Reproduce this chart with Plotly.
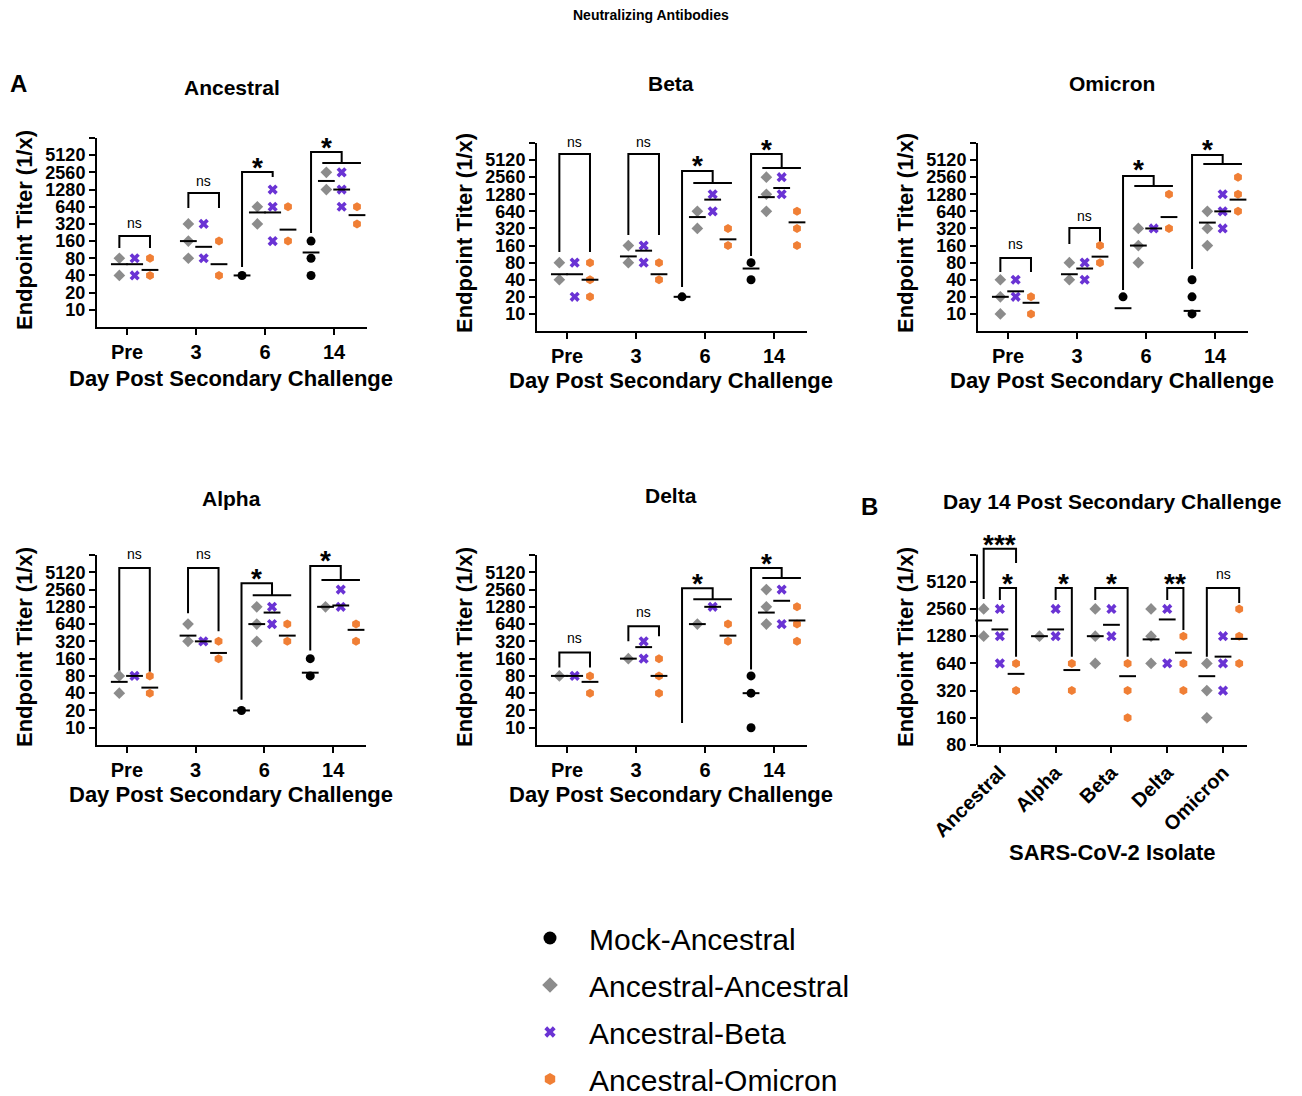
import math
import plotly.graph_objects as go

# page is drawn with an 8px body margin, so the figure is made 8px smaller
OFF = 8
W, H = 1302, 1096
FW, FH = W - OFF, H - OFF
FONT = "Liberation Sans, Arial, sans-serif"

# ---------------- data ----------------
DAYS = ["Pre", "3", "6", "14"]
ISOLATES = ["Ancestral", "Alpha", "Beta", "Delta", "Omicron"]
SERIES_NAMES = ["Mock-Ancestral", "Ancestral-Ancestral", "Ancestral-Beta", "Ancestral-Omicron"]
Y_TICKS_A = [10, 20, 40, 80, 160, 320, 640, 1280, 2560, 5120]
Y_TICKS_B = [80, 160, 320, 640, 1280, 2560, 5120]
# values below the limit of detection are plotted at 5 (the axis floor)

# Ancestral
ANC_MOCK = [[5], [5], [40], [160, 80, 40]]
ANC_MOCK_GMT = [5, 5, 40, 101]
ANC_AA = [[80, 40], [320, 160, 80], [640, 320], [2560, 1280]]
ANC_AA_GMT = [63, 160, 508, 1810]
ANC_AB = [[80, 40], [320, 80], [1280, 640, 160], [2560, 1280, 640]]
ANC_AB_GMT = [63, 127, 508, 1280]
ANC_AO = [[80, 40], [160, 40], [640, 160], [640, 320]]
ANC_AO_GMT = [50, 63, 254, 456]

# Beta
BETA_MOCK = [[5], [5], [20], [80, 40]]
BETA_MOCK_GMT = [5, 5, 20, 63]
BETA_AA = [[80, 40], [160, 80], [640, 320], [2560, 1280, 640]]
BETA_AA_GMT = [50, 103, 508, 1140]
BETA_AB = [[80, 20], [160, 80], [1280, 640], [2560, 1280]]
BETA_AB_GMT = [50, 130, 1030, 1650]
BETA_AO = [[80, 40, 20], [80, 40], [320, 160], [640, 320, 160]]
BETA_AO_GMT = [40, 50, 206, 410]

# Omicron
OMI_MOCK = [[5], [5], [20, 5], [40, 20, 10, 5]]
OMI_MOCK_GMT = [5, 5, 12.6, 11.3]
OMI_AA = [[40, 20, 10], [80, 40], [320, 160, 80], [640, 320, 160]]
OMI_AA_GMT = [20, 50, 160, 406]
OMI_AB = [[40, 20], [80, 40], [320], [1280, 640, 320]]
OMI_AB_GMT = [25, 63, 320, 640]
OMI_AO = [[20, 10], [160, 80], [1280, 320], [2560, 1280, 640]]
OMI_AO_GMT = [15.7, 102, 508, 1030]

# Alpha
ALP_MOCK = [[5], [5], [20], [160, 80]]
ALP_MOCK_GMT = [5, 5, 20, 91]
ALP_AA = [[80, 40], [640, 320], [1280, 640, 320], [1280]]
ALP_AA_GMT = [63, 403, 640, 1280]
ALP_AB = [[80], [320], [1280, 640], [2560, 1280]]
ALP_AB_GMT = [80, 320, 1016, 1350]
ALP_AO = [[80, 40], [320, 160], [640, 320], [640, 320]]
ALP_AO_GMT = [50, 201, 403, 508]

# Delta
DEL_MOCK = [[5], [5], [5], [80, 40, 10]]
DEL_MOCK_GMT = [5, 5, 5, 40]
DEL_AA = [[80], [160], [640], [2560, 1280, 640]]
DEL_AA_GMT = [80, 160, 640, 1016]
DEL_AB = [[80], [320, 160], [1280], [2560, 640]]
DEL_AB_GMT = [80, 254, 1280, 1630]
DEL_AO = [[80, 40], [160, 80, 40], [640, 320], [1280, 640, 320]]
DEL_AO_GMT = [63, 80, 403, 740]

# Day 14, by isolate
D14_AA = [[2560, 1280], [1280], [2560, 1280, 640], [2560, 1280, 640], [640, 320, 160]]
D14_AA_GMT = [1910, 1280, 1280, 1180, 462]
D14_AB = [[2560, 1280, 640], [2560, 1280], [2560, 1280], [2560, 640], [1280, 640, 320]]
D14_AB_GMT = [1520, 1520, 1710, 1960, 760]
D14_AO = [[640, 320], [640, 320], [640, 320, 160], [1280, 640, 320], [2560, 1280, 640]]
D14_AO_GMT = [490, 540, 462, 840, 1195]

# ---------------- styles ----------------
STYLE = {
    "mock": dict(symbol="circle", color="#000000", size=9, lsize=13),
    "aa": dict(symbol="diamond", color="#8c8c8c", size=9, lsize=12),
    "ab": dict(symbol="x", color="#6a33d4", size=9, lsize=10),
    "ao": dict(symbol="hexagon", color="#f07f35", size=9, lsize=12),
}
KEYS = ["mock", "aa", "ab", "ao"]
KEY_NAME = dict(zip(KEYS, SERIES_NAMES))

A_OFF = [-0.333, -0.111, 0.111, 0.333]
B_OFF = [-0.29, 0.0, 0.29]


def simple(g, o0, o1, top, yl, yr):
    return [[(g + o0, yl), (g + o0, top), (g + o1, top), (g + o1, yr)]]


def vs_all(g, top, yl, yj):
    return [[(g - 0.333, yl), (g - 0.333, top), (g + 0.111, top), (g + 0.111, yj)],
            [(g - 0.17, yj), (g + 0.39, yj)]]


PANELS = [
    dict(title="Ancestral", box=(97, 367, 138, 327), cats=DAYS, xr=(-0.435, 3.478),
         yr=(5, 10240), axis_top=10240, ticks=Y_TICKS_A, offs=A_OFF, keys=KEYS,
         series=[(ANC_MOCK, ANC_MOCK_GMT), (ANC_AA, ANC_AA_GMT), (ANC_AB, ANC_AB_GMT), (ANC_AO, ANC_AO_GMT)],
         brackets=simple(0, -0.111, 0.333, 197, 121, 121) + simple(1, -0.111, 0.333, 1115, 608, 608)
         + simple(2, -0.333, 0.111, 2596, 56, 2124) + vs_all(3, 5830, 222, 3740),
         labels=[(0.111, 332, "ns"), (1.111, 1810, "ns"), (1.889, 4050, "*"), (2.889, 9440, "*")],
         title_xy=(232, 87), ytitle_xy=(24, 230), xtitle_xy=(231, 378), xtitle="Day Post Secondary Challenge"),
    dict(title="Beta", box=(537, 807, 143, 331), cats=DAYS, xr=(-0.435, 3.478),
         yr=(5, 10240), axis_top=10240, ticks=Y_TICKS_A, offs=A_OFF, keys=KEYS,
         series=[(BETA_MOCK, BETA_MOCK_GMT), (BETA_AA, BETA_AA_GMT), (BETA_AB, BETA_AB_GMT), (BETA_AO, BETA_AO_GMT)],
         brackets=simple(0, -0.111, 0.333, 6565, 123, 123) + simple(1, -0.111, 0.333, 6565, 246, 246)
         + vs_all(2, 3287, 29.8, 2022) + vs_all(3, 6565, 105, 3720),
         labels=[(0.111, 10675, "ns"), (1.111, 10675, "ns"), (1.889, 5570, "*"), (2.889, 10240, "*")],
         title_xy=(671, 84), ytitle_xy=(464, 233), xtitle_xy=(671, 381), xtitle="Day Post Secondary Challenge"),
    dict(title="Omicron", box=(978, 1248, 143, 331), cats=DAYS, xr=(-0.435, 3.478),
         yr=(5, 10240), axis_top=10240, ticks=Y_TICKS_A, offs=A_OFF, keys=KEYS,
         series=[(OMI_MOCK, OMI_MOCK_GMT), (OMI_AA, OMI_AA_GMT), (OMI_AB, OMI_AB_GMT), (OMI_AO, OMI_AO_GMT)],
         brackets=simple(0, -0.111, 0.333, 96.5, 54.7, 54.7) + simple(1, -0.111, 0.333, 326, 170, 170)
         + vs_all(2, 2686, 26.4, 1790) + vs_all(3, 6300, 62, 4366),
         labels=[(0.111, 170, "ns"), (1.111, 531, "ns"), (1.889, 4550, "*"), (2.889, 10240, "*")],
         title_xy=(1112, 84), ytitle_xy=(905, 233), xtitle_xy=(1112, 381), xtitle="Day Post Secondary Challenge"),
    dict(title="Alpha", box=(97, 366, 555, 745), cats=DAYS, xr=(-0.435, 3.478),
         yr=(5, 10240), axis_top=10240, ticks=Y_TICKS_A, offs=A_OFF, keys=KEYS,
         series=[(ALP_MOCK, ALP_MOCK_GMT), (ALP_AA, ALP_AA_GMT), (ALP_AB, ALP_AB_GMT), (ALP_AO, ALP_AO_GMT)],
         brackets=simple(0, -0.111, 0.333, 6057, 95, 95) + simple(1, -0.111, 0.333, 6057, 986, 478)
         + vs_all(2, 3310, 30.7, 2040) + vs_all(3, 6570, 222, 3740),
         labels=[(0.111, 10700, "ns"), (1.111, 10700, "ns"), (1.889, 5375, "*"), (2.889, 10700, "*")],
         title_xy=(231, 498), ytitle_xy=(24, 647), xtitle_xy=(231, 794), xtitle="Day Post Secondary Challenge"),
    dict(title="Delta", box=(537, 807, 555, 745), cats=DAYS, xr=(-0.435, 3.478),
         yr=(5, 10240), axis_top=10240, ticks=Y_TICKS_A, offs=A_OFF, keys=KEYS,
         series=[(DEL_MOCK, DEL_MOCK_GMT), (DEL_AA, DEL_AA_GMT), (DEL_AB, DEL_AB_GMT), (DEL_AO, DEL_AO_GMT)],
         brackets=simple(0, -0.111, 0.333, 205, 112, 112) + simple(1, -0.111, 0.333, 585, 320, 391)
         + vs_all(2, 2706, 12.1, 1737) + vs_all(3, 6057, 103, 4050),
         labels=[(0.111, 360, "ns"), (1.111, 1026, "ns"), (1.889, 4395, "*"), (2.889, 9835, "*")],
         title_xy=(671, 496), ytitle_xy=(464, 647), xtitle_xy=(671, 794), xtitle="Day Post Secondary Challenge"),
    dict(title="Day 14 Post Secondary Challenge", box=(977, 1247, 546.4, 745), cats=ISOLATES, xr=(-0.41, 4.43),
         yr=(80, 80 * 2 ** 7.3), axis_top=10240, ticks=Y_TICKS_B, offs=B_OFF, keys=["aa", "ab", "ao"],
         series=[(D14_AA, D14_AA_GMT), (D14_AB, D14_AB_GMT), (D14_AO, D14_AO_GMT)],
         brackets=simple(0, -0.29, 0.29, 11840, 3305, 8265) + simple(0, 0, 0.29, 4370, 3216, 760)
         + simple(1, 0, 0.29, 4370, 3216, 760) + simple(2, -0.29, 0.29, 4370, 3216, 760)
         + simple(3, 0, 0.29, 4370, 3216, 1500) + simple(4, -0.29, 0.29, 4370, 760, 2985),
         labels=[(0.0, 16000, "***"), (0.145, 5790, "*"), (1.145, 5790, "*"), (2.0, 5790, "*"),
                 (3.145, 5790, "**"), (4.0, 6240, "ns")],
         title_xy=(1112, 501), ytitle_xy=(905, 647), xtitle_xy=(1112, 852), xtitle="SARS-CoV-2 Isolate",
         tickangle=-45),
]


def pxp(x):
    return (x - OFF) / FW


def pyp(y):
    return 1 - (y - OFF) / FH


fig = go.Figure()
layout = {}
annotations = []
shapes = []

# legend entries (larger symbols, as in the reference legend)
for key in KEYS:
    st = STYLE[key]
    fig.add_trace(go.Scatter(x=[None], y=[None], mode="markers", name=KEY_NAME[key], legendgroup=key,
                             showlegend=True,
                             marker=dict(symbol=st["symbol"], color=st["color"], size=st["lsize"], line=dict(width=0))))

for i, p in enumerate(PANELS, start=1):
    xa = "x" if i == 1 else f"x{i}"
    ya = "y" if i == 1 else f"y{i}"
    xl, xr_, yt, yb = p["box"]
    ppd = (yb - yt) / math.log2(p["yr"][1] / p["yr"][0])  # pixels per doubling

    # brackets
    bx, by = [], []
    for poly in p["brackets"]:
        for (x, y) in poly:
            bx.append(x)
            by.append(y)
        bx.append(None)
        by.append(None)
    fig.add_trace(go.Scatter(x=bx, y=by, mode="lines", xaxis=xa, yaxis=ya, showlegend=False,
                             line=dict(color="black", width=2), hoverinfo="skip"))

    # points
    for k, (pts, gmt) in enumerate(p["series"]):
        key = p["keys"][k]
        st = STYLE[key]
        xs, ys = [], []
        for g, vals in enumerate(pts):
            for v in vals:
                xs.append(g + p["offs"][k])
                ys.append(v)
        fig.add_trace(go.Scatter(
            x=xs, y=ys, mode="markers", xaxis=xa, yaxis=ya, name=KEY_NAME[key],
            legendgroup=key, showlegend=False, cliponaxis=False,
            marker=dict(symbol=st["symbol"], color=st["color"], size=st["size"], line=dict(width=0))))
    # geometric means
    for k, (pts, gmt) in enumerate(p["series"]):
        mx = [g + p["offs"][k] for g in range(len(gmt))]
        fig.add_trace(go.Scatter(
            x=mx, y=gmt, mode="markers", xaxis=xa, yaxis=ya, showlegend=False, cliponaxis=False,
            marker=dict(symbol="line-ew", size=12, line=dict(color="black", width=2)), hoverinfo="skip"))

    # significance labels: anchored inside the axis range, shifted in pixels when above it
    y_in = p["yr"][1] * 0.97
    for (x, v, t) in p["labels"]:
        is_star = "*" in t
        yc = min(v, y_in)
        shift = ppd * math.log2(v / yc) - (7 if is_star else 0)
        annotations.append(dict(
            x=x, y=math.log10(yc), xref=xa, yref=ya, text=t, showarrow=False,
            xanchor="center", yanchor="middle", yshift=shift,
            font=dict(family=FONT, size=28 if is_star else 14, color="black",
                      weight="bold" if is_star else "normal")))

    b_panel = p["yr"][1] != p["axis_top"]
    tv = p["ticks"] + [p["axis_top"]]
    tt = [str(v) for v in p["ticks"]] + [""]
    layout["xaxis" if i == 1 else f"xaxis{i}"] = dict(
        domain=[pxp(xl), pxp(xr_)], range=list(p["xr"]), anchor=ya, automargin=False,
        tickvals=list(range(len(p["cats"]))), ticktext=p["cats"], tickangle=p.get("tickangle", 0),
        showline=True, linewidth=2, linecolor="black", ticks="outside", ticklen=6, tickwidth=2,
        tickcolor="black", showgrid=False, zeroline=False,
        tickfont=dict(family=FONT, size=20, color="black", weight="bold"))
    layout["yaxis" if i == 1 else f"yaxis{i}"] = dict(
        domain=[pyp(yb), pyp(yt)], type="log", automargin=False,
        range=[math.log10(p["yr"][0]), math.log10(p["yr"][1])], anchor=xa,
        tickvals=tv, ticktext=tt,
        showline=not b_panel, linewidth=2, linecolor="black", ticks="outside", ticklen=6, tickwidth=2,
        tickcolor="black", showgrid=False, zeroline=False,
        tickfont=dict(family=FONT, size=18, color="black", weight="bold"))
    if b_panel:
        frac = math.log2(p["axis_top"] / p["yr"][0]) / math.log2(p["yr"][1] / p["yr"][0])
        shapes.append(dict(type="line", xref=f"{xa} domain", yref=f"{ya} domain", x0=0, x1=0, y0=0, y1=frac,
                           line=dict(color="black", width=2)))

    # titles
    tx, ty = p["title_xy"]
    annotations.append(dict(x=pxp(tx), y=pyp(ty), xref="paper", yref="paper", text=p["title"], showarrow=False,
                            xanchor="center", yanchor="middle",
                            font=dict(family=FONT, size=21, color="black", weight="bold")))
    yx, yy = p["ytitle_xy"]
    annotations.append(dict(x=pxp(yx), y=pyp(yy), xref="paper", yref="paper", text="Endpoint Titer (1/x)",
                            showarrow=False, textangle=-90, xanchor="center", yanchor="middle",
                            font=dict(family=FONT, size=22, color="black", weight="bold")))
    xx, xy = p["xtitle_xy"]
    annotations.append(dict(x=pxp(xx), y=pyp(xy), xref="paper", yref="paper", text=p["xtitle"],
                            showarrow=False, xanchor="center", yanchor="middle",
                            font=dict(family=FONT, size=22, color="black", weight="bold")))

annotations.append(dict(x=pxp(651), y=pyp(15), xref="paper", yref="paper", text="Neutralizing Antibodies",
                        showarrow=False, xanchor="center", yanchor="middle",
                        font=dict(family=FONT, size=14, color="black", weight="bold")))
annotations.append(dict(x=pxp(18), y=pyp(83), xref="paper", yref="paper", text="A", showarrow=False,
                        xanchor="center", yanchor="middle", font=dict(family=FONT, size=24, color="black", weight="bold")))
annotations.append(dict(x=pxp(869), y=pyp(506), xref="paper", yref="paper", text="B", showarrow=False,
                        xanchor="center", yanchor="middle", font=dict(family=FONT, size=24, color="black", weight="bold")))

fig.update_layout(
    width=FW, height=FH, margin=dict(l=0, r=0, t=0, b=0, autoexpand=False),
    paper_bgcolor="white", plot_bgcolor="white",
    annotations=annotations, shapes=shapes,
    legend=dict(x=pxp(511), y=pyp(912), xref="container", yref="container", xanchor="left", yanchor="top",
                itemwidth=68, tracegroupgap=5, font=dict(family=FONT, size=30, color="black"),
                bgcolor="rgba(0,0,0,0)"),
    **layout,
)

fig.write_html("out.html")
